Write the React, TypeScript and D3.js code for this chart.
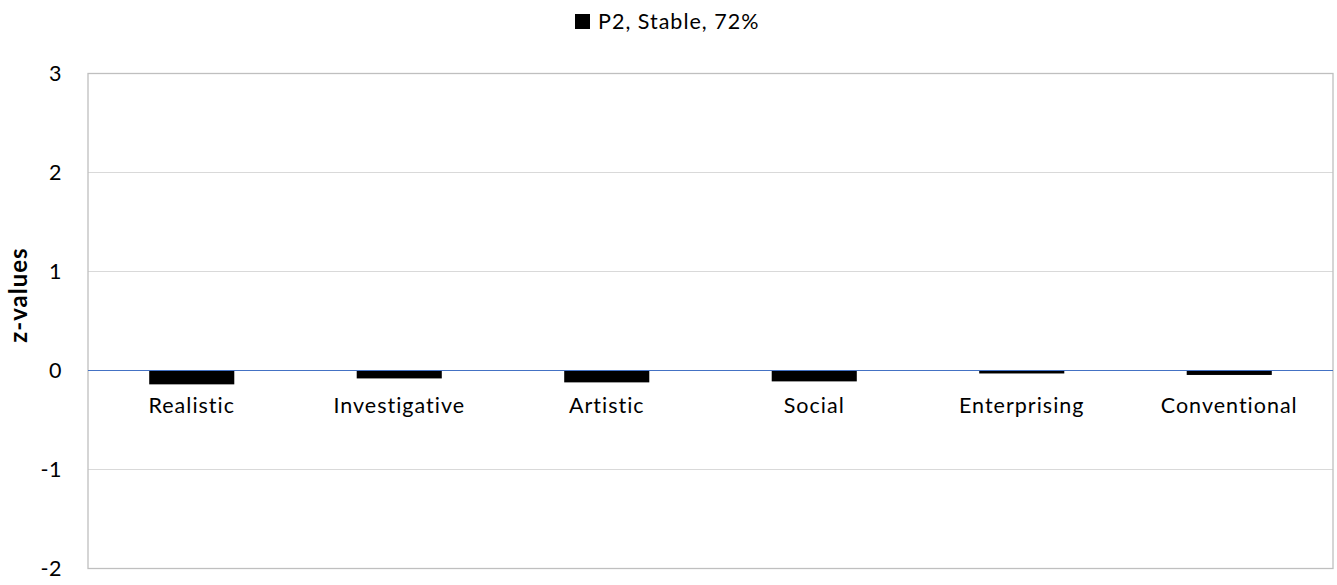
import React from "react";
import * as d3 from "d3";

const categories = ["Realistic", "Investigative", "Artistic", "Social", "Enterprising", "Conventional"];
const values = [-0.14, -0.08, -0.12, -0.11, -0.03, -0.045];
const yTicks = [-2, -1, 0, 1, 2, 3];
const seriesName = "P2, Stable, 72%";

const W = 1337, H = 585;
const m = { left: 88, right: 4, top: 73.5, bottom: 16.5 };
const FONT = "Lato, 'Open Sans', sans-serif";

export default function App() {
  const x = d3.scaleBand<string>().domain(categories).range([m.left, W - m.right]).paddingInner(0.59).paddingOuter(0.295);
  const y = d3.scaleLinear().domain([-2, 3]).range([H - m.bottom, m.top]);
  return (
    <svg width={W} height={H} style={{ position: "absolute", left: 0, top: 0, background: "#fff" }}>
      {yTicks.map((t) => (
        <g key={t}>
          <line x1={m.left} x2={W - m.right} y1={y(t)} y2={y(t)} stroke="#d9d9d9" strokeWidth={1} />
          <text x={62} y={y(t)} dy="0.36em" textAnchor="end" fontFamily={FONT} fontSize={21.5} letterSpacing={0.5} fill="#000">{t}</text>
        </g>
      ))}
      <rect x={m.left} y={m.top} width={W - m.right - m.left} height={H - m.bottom - m.top} fill="none" stroke="#bfbfbf" strokeWidth={1.3} />
      {categories.map((c, i) => (
        <rect key={c} x={x(c)!} width={x.bandwidth()} y={y(0)} height={y(values[i]) - y(0)} fill="#000" />
      ))}
      <line x1={m.left} x2={W - m.right} y1={y(0)} y2={y(0)} stroke="#4472c4" strokeWidth={1} />
      {categories.map((c) => (
        <text key={c} x={x(c)! + x.bandwidth() / 2} y={413} textAnchor="middle" fontFamily={FONT} fontSize={21.5} letterSpacing={1} fill="#000">{c}</text>
      ))}
      <text transform={`translate(27,295) rotate(-90)`} textAnchor="middle" fontFamily={FONT} fontSize={24} fontWeight="bold" letterSpacing={1} fill="#000">z-values</text>
      <rect x={575} y={14} width={15} height={15} fill="#000" />
      <text x={598} y={29} fontFamily={FONT} fontSize={21.5} letterSpacing={1} fill="#000">{seriesName}</text>
    </svg>
  );
}
